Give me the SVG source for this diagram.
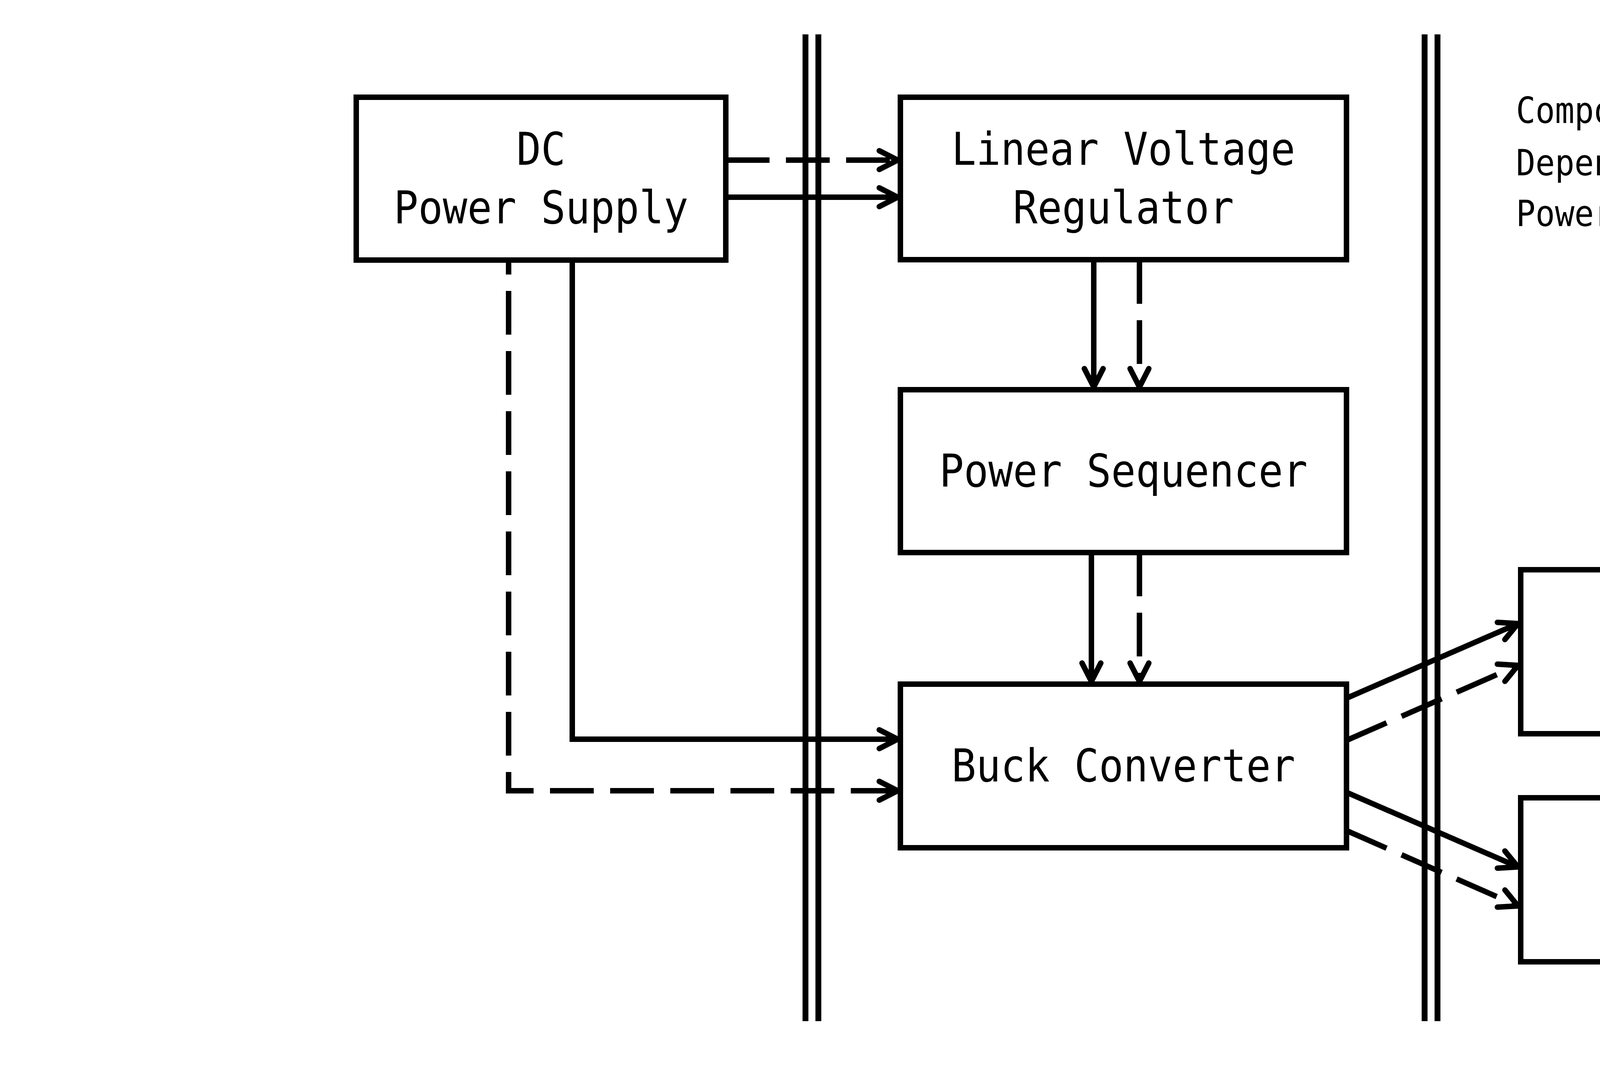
<svg xmlns="http://www.w3.org/2000/svg" width="5715" height="2735" viewBox="0 0 5715 2735">
<style>
.box{fill:#fff;stroke:#000;stroke-width:14}
.t{font-family:"DejaVu Sans Mono","Liberation Mono",monospace;font-size:116px;fill:#000}
.lg{font-family:"DejaVu Sans Mono","Liberation Mono",monospace;font-size:92px;fill:#000}
.bd{stroke:#000;stroke-width:15;fill:none}
.c{fill:none;stroke:#000;stroke-width:14;marker-end:url(#ah)}
.d{stroke-dasharray:112 42}
.lc{fill:none;stroke:#000;stroke-width:7;marker-end:url(#ahs)}
</style>
<defs>
<marker id="ah" markerUnits="userSpaceOnUse" viewBox="-80 -60 120 120" markerWidth="120" markerHeight="120" refX="0" refY="0" orient="auto" overflow="visible">
<path d="M-47,-24 L0,0 L-47,24" fill="none" stroke="#000" stroke-width="14" stroke-linecap="round" stroke-linejoin="miter"/>
</marker>
<marker id="ahs" markerUnits="userSpaceOnUse" viewBox="-80 -60 120 120" markerWidth="120" markerHeight="120" refX="0" refY="0" orient="auto" overflow="visible">
<path d="M-40,-22 L0,0 L-40,22" fill="none" stroke="#000" stroke-width="7" stroke-linecap="round" stroke-linejoin="miter"/>
</marker>
</defs>
<rect width="5715" height="2735" fill="#fff"/>
<g id="borders">
<line class="bd" x1="2062" y1="88" x2="2062" y2="2615"/>
<line class="bd" x1="2095" y1="88" x2="2095" y2="2615"/>
<line class="bd" x1="3647" y1="88" x2="3647" y2="2615"/>
<line class="bd" x1="3680" y1="88" x2="3680" y2="2615"/>
</g>
<g id="connectors">
<path class="c d" d="M1858,410 L2298,410"/>
<path class="c" d="M1858,505 L2298,505"/>
<path class="c" d="M2800,666 L2800,991"/>
<path class="c d" d="M2917,666 L2917,991"/>
<path class="c" d="M2794,1415 L2794,1745"/>
<path class="c d" d="M2917,1415 L2917,1745"/>
<path class="c" d="M1465,666 L1465,1893 L2298,1893"/>
<path class="c d" style="stroke-dashoffset:75" d="M1302,666 L1302,2025 L2298,2025"/>
<path class="c" d="M3447,1788 L3886,1597"/>
<path class="c d" d="M3447,1896 L3886,1704"/>
<path class="c" d="M3447,2029 L3886,2220"/>
<path class="c d" d="M3447,2127 L3886,2320"/>
</g>
<g id="dc">
<rect class="box" x="912" y="249" width="946" height="417"/>
<text class="t" text-anchor="middle" transform="translate(1385 0) scale(0.9 1)"><tspan x="0" y="422">DC</tspan><tspan x="0" y="572">Power Supply</tspan></text>
</g>
<g id="lvr">
<rect class="box" x="2305" y="249" width="1142" height="416"/>
<text class="t" text-anchor="middle" transform="translate(2876 0) scale(0.9 1)"><tspan x="0" y="422">Linear Voltage</tspan><tspan x="0" y="572">Regulator</tspan></text>
</g>
<g id="ps">
<rect class="box" x="2305" y="998" width="1142" height="417"/>
<text class="t" text-anchor="middle" transform="translate(2876 0) scale(0.9 1)"><tspan x="0" y="1246">Power Sequencer</tspan></text>
</g>
<g id="buck">
<rect class="box" x="2305" y="1752" width="1142" height="419"/>
<text class="t" text-anchor="middle" transform="translate(2876 0) scale(0.9 1)"><tspan x="0" y="2001">Buck Converter</tspan></text>
</g>
<g id="osc">
<rect class="box" x="3893" y="1459" width="1144" height="420"/>
<text class="t" text-anchor="middle" transform="translate(4465 0) scale(0.9 1)"><tspan x="0" y="1710">Oscillator</tspan></text>
</g>
<g id="load">
<rect class="box" x="3893" y="2043" width="1144" height="420"/>
<text class="t" text-anchor="middle" transform="translate(4465 0) scale(0.9 1)"><tspan x="0" y="2219">Load</tspan><tspan x="0" y="2369">(Resistive)</tspan></text>
</g>
<g id="legend">
<text class="lg" transform="translate(3881 0) scale(0.9 1)"><tspan x="0" y="315">Component Border</tspan><tspan x="0" y="449">Dependency</tspan><tspan x="0" y="579">Power/Signal</tspan></text>
<line x1="5091" y1="274" x2="5347" y2="274" stroke="#000" stroke-width="12"/>
<line x1="5091" y1="297" x2="5347" y2="297" stroke="#000" stroke-width="12"/>
<text class="lg" text-anchor="end" transform="translate(5051 0) scale(0.9 1)"><tspan x="0" y="449">(low)</tspan><tspan x="0" y="579">(from)</tspan></text>
<path class="lc" d="M5094,420 L5341,420"/>
<path class="lc" style="stroke-dasharray:56 21" d="M5094,550 L5341,550"/>
<text class="lg" transform="translate(5377 0) scale(0.9 1)"><tspan x="0" y="449">(high)</tspan><tspan x="0" y="579">(to)</tspan></text>
</g>
</svg>
